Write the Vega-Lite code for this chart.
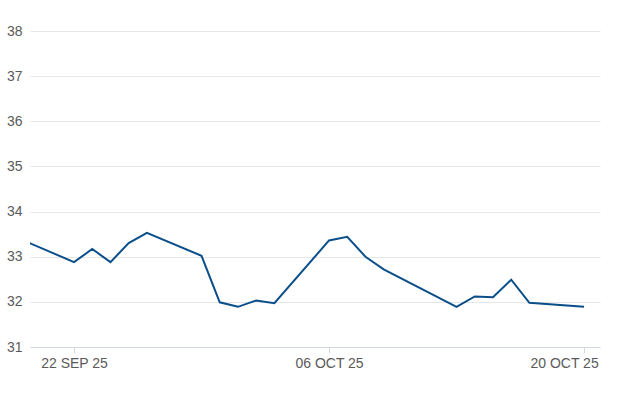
{
  "$schema": "https://vega.github.io/schema/vega-lite/v6.json",
  "autosize": "none",
  "width": 570,
  "height": 316,
  "padding": {"left": 30, "top": 31, "right": 26, "bottom": 70},
  "background": "white",
  "config": {"view": {"stroke": null}, "font": "Liberation Sans"},
  "data": {"values": [
    {"date": "2025-09-19", "value": 33.40},
    {"date": "2025-09-22", "value": 32.88},
    {"date": "2025-09-23", "value": 33.17},
    {"date": "2025-09-24", "value": 32.88},
    {"date": "2025-09-25", "value": 33.30},
    {"date": "2025-09-26", "value": 33.53},
    {"date": "2025-09-29", "value": 33.02},
    {"date": "2025-09-30", "value": 31.99},
    {"date": "2025-10-01", "value": 31.89},
    {"date": "2025-10-02", "value": 32.03},
    {"date": "2025-10-03", "value": 31.97},
    {"date": "2025-10-06", "value": 33.36},
    {"date": "2025-10-07", "value": 33.44},
    {"date": "2025-10-08", "value": 33.00},
    {"date": "2025-10-09", "value": 32.72},
    {"date": "2025-10-13", "value": 31.89},
    {"date": "2025-10-14", "value": 32.12},
    {"date": "2025-10-15", "value": 32.10},
    {"date": "2025-10-16", "value": 32.49},
    {"date": "2025-10-17", "value": 31.98},
    {"date": "2025-10-20", "value": 31.89}
  ]},
  "mark": {"type": "line", "color": "#0b4f8a", "strokeWidth": 2, "clip": true, "interpolate": "linear"},
  "encoding": {
    "x": {
      "field": "date", "type": "temporal", "title": null,
      "scale": {"domain": [{"year": 2025, "month": 9, "date": 19, "hours": 14}, {"year": 2025, "month": 10, "date": 20, "hours": 21}]},
      "axis": {
        "values": [{"year": 2025, "month": 9, "date": 22}, {"year": 2025, "month": 10, "date": 6}, {"year": 2025, "month": 10, "date": 20}],
        "labelExpr": "upper(timeFormat(datum.value, '%d %b %y'))",
        "labelOffset": {"expr": "datum.index == 1 ? -20 : 0"},
        "grid": false, "domain": true, "domainColor": "#d3d9e2", "domainWidth": 1,
        "ticks": true, "tickColor": "#d3d9e2", "tickSize": 6,
        "labelColor": "#5a5a5a", "labelFontSize": 14, "labelPadding": 3,
        "labelFont": "Liberation Sans"
      }
    },
    "y": {
      "field": "value", "type": "quantitative", "title": null,
      "scale": {"domain": [31, 38], "nice": false, "zero": false},
      "axis": {
        "values": [31, 32, 33, 34, 35, 36, 37, 38],
        "grid": true, "gridColor": "#e6e6e6", "gridWidth": 1,
        "domain": false, "ticks": false,
        "labelColor": "#5a5a5a", "labelFontSize": 14, "labelPadding": 8,
        "labelFont": "Liberation Sans"
      }
    }
  }
}
